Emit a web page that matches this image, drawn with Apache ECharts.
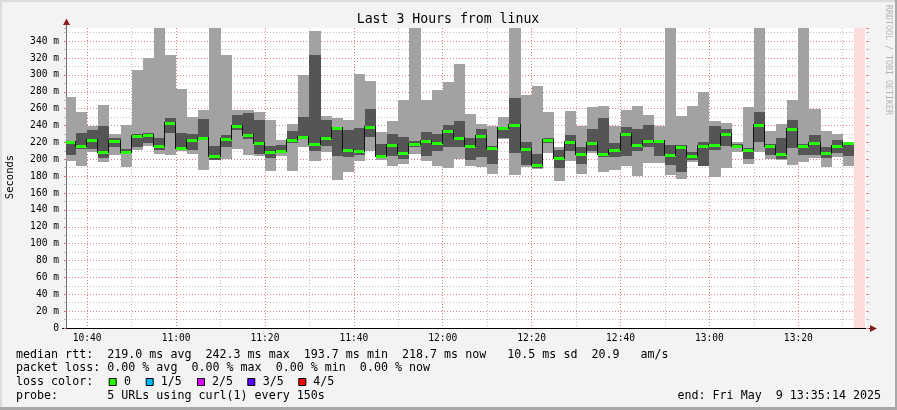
<!DOCTYPE html>
<html><head><meta charset="utf-8">
<script src="https://cdn.jsdelivr.net/npm/echarts@6/dist/echarts.min.js"></script>
<style>html,body{margin:0;padding:0;background:#f3f3f3}#c{width:897px;height:410px}</style>
</head><body><div id="c"></div>
<script>
// ---------- data ----------
const chartTitle = 'Last 3 Hours from linux';
const yAxisTitle = 'Seconds';
const viewStart = '10:35:14';
const viewEnd = '13:35:14';
const firstStep = '10:35:00';
const stepMinutes = 2.5;            // 150 s probe interval
const unknownSteps = ['13:32:30'];  // steps with no data (pink)
const yMax = 355.6;

// ping RTTs per step (ms): max, 4th, median, 2nd, min of 5 probes
const pingMax = [274,255.5,240,264.8,230.5,241,305.3,320.3,380,323.8,283.6,249.8,257.9,380,323.8,258,258,255.5,
  247,223,242.3,300.1,352.2,251.8,248.4,246,301.3,293,231.8,244.9,270.7,380,269.7,282.4,291.1,312.8,
  254,242.1,239,249.6,380,276.5,286.3,255.5,214.1,256.7,239.7,261.8,263.4,239.7,258.7,263.4,252.8,239,
  380,250.8,263.4,279.2,245.7,242.9,220,261.5,380,233,242.1,269.7,380,259.5,233,229.9,219.6];
const ping4 = [221,230.7,234.2,238.9,224.7,211.7,229.5,231.4,224.7,248.4,230.7,229.5,247.2,215.3,228.3,252,254.4,246,
  215.7,216.4,233.8,250,323.8,246,238.1,234.2,236.6,260.1,217.6,229.5,226.3,221.6,232.2,229.5,240.5,244.9,
  225,236.2,216,237.5,272.9,220,206.6,225.1,211.3,229.1,215,236.2,249.2,219.2,237.8,236.2,240.9,223.2,
  217.2,216.9,208.2,220.4,239,236.2,218,213.3,255.5,218,224.7,246,218,228.3,214.1,222.4,219.6];
const pingMedian = [220.4,215.6,222.4,208.2,221.4,208.9,227.7,229.3,215.6,242.7,213.7,223.1,224.7,203.6,224.3,239.3,228.5,219.2,
  208.2,209.3,222.4,226.7,217.6,224.7,237,210.5,209.3,238.5,204.2,217.2,207,218.3,222,219.2,233,224.7,
  215.2,227.7,213.1,237,240.3,212.1,193.7,223.4,201.3,220.6,206,219.4,205.7,211.5,230.1,217.5,221.4,221.4,
  205,215.1,204.4,215.9,216.7,230.1,215.9,211.5,240.9,216.1,206.6,235.4,215.7,219.4,208,215.7,218.7];
const ping2 = [205.5,212.5,211.7,201,214.5,207,214.5,219,210.5,230.7,211,210.5,223,199.5,214.5,234.2,224.3,205.8,
  201,207.8,219.6,224.7,209.7,215.7,203.8,202.6,205,226.3,201,203.8,199.9,214.5,203.8,209.7,214.5,214.5,
  199,202.2,194.7,224.7,207.4,193.6,189.6,219.2,189.6,209.4,194.3,209.4,202.6,202.6,203.4,210,214.1,203.4,
  192.8,184.5,199.5,192.4,210.5,215.3,214.1,200.3,220,205.4,200.3,212.9,205.4,205.4,201.4,207.4,203.4];
const pingMin = [197.5,192,208.3,196.7,205.6,190.6,211,215.5,206.5,204.6,210.2,206,187,198.8,200,211.7,204.6,203.4,
  185.8,204,185.8,214.3,197.7,208.5,176,184.5,197.7,209.5,199.3,191.8,194.9,205.8,197.9,192.5,189.4,200.7,
  191.6,190.4,182.9,224,181,190.8,189,207.4,173.8,197.5,182.9,207.4,184.5,187.6,191.6,180.5,195.5,195.5,
  181,176.6,196.3,191.6,178.6,189.2,208.2,194.7,208.2,200.3,198.7,192.8,196.3,201.4,190.4,202.6,191.6];

const lossLabels = ['0', '1/5', '2/5', '3/5', '4/5'];
const lossColors = ['#26ff00', '#00b8ff', '#dd00ff', '#5500ff', '#ff0000'];
const legendLines = [
  'median rtt:  219.0 ms avg  242.3 ms max  193.7 ms min  218.7 ms now   10.5 ms sd  20.9   am/s',
  'packet loss: 0.00 % avg  0.00 % max  0.00 % min  0.00 % now',
  'loss color:',
  'probe:       5 URLs using curl(1) every 150s'
];
const endText = 'end: Fri May  9 13:35:14 2025';
const sideText = 'RRDTOOL / TOBI OETIKER';

// ---------- build ----------
const toMin = s => { const p = s.split(':').map(Number); return p[0]*60 + p[1] + (p[2]||0)/60; };
const pad = n => (n < 10 ? '0' : '') + n;
const t0 = toMin(firstStep);
const rows = pingMedian.map((m, i) => [t0 + i*stepMinutes, pingMin[i], ping2[i], m, ping4[i], pingMax[i], 1]);
unknownSteps.forEach(s => rows.push([toMin(s), 0, 0, 0, 0, 0, 0]));

const LIGHT = '#a2a2a2', DARK = '#555555', UNK = '#ffdcdc';
const MONO = '"DejaVu Sans Mono", monospace';

function clipTo(cs, r) {
  return echarts.graphic.clipRectByRect(r, {x: cs.x, y: cs.y, width: cs.width, height: cs.height});
}
function smoke(params, api) {
  const cs = params.coordSys;
  const a = api.value(0), b = a + stepMinutes;
  const X0 = Math.round(api.coord([a, 0])[0]), X1 = Math.round(api.coord([b, 0])[0]);
  const Y = v => Math.round(api.coord([a, v])[1]);
  const children = [];
  if (!api.value(6)) {
    const r = clipTo(cs, {x: X0, y: cs.y, width: X1 - X0, height: cs.height});
    if (r) children.push({type: 'rect', shape: r, style: {fill: UNK}});
    return {type: 'group', children};
  }
  const band = (lo, hi, c) => {
    const yt = Y(hi), yb = Y(lo);
    const r = clipTo(cs, {x: X0, y: yt, width: X1 - X0, height: yb - yt});
    if (r) children.push({type: 'rect', shape: r, style: {fill: c}});
  };
  band(api.value(1), api.value(5), LIGHT);
  band(api.value(2), api.value(4), DARK);
  return {type: 'group', children};
}
function medianLine(params, api) {
  const cs = params.coordSys;
  if (!api.value(6)) return {type: 'group', children: []};
  const a = api.value(0), b = a + stepMinutes;
  const X0 = Math.round(api.coord([a, 0])[0]), X1 = Math.round(api.coord([b, 0])[0]);
  const Y = v => Math.round(api.coord([a, v])[1]);
  const ym = Y(api.value(3));
  const children = [];
  const idx = params.dataIndexInside;
  if (idx > 0 && api.value(6, idx - 1)) {
    const yp = Y(api.value(3, idx - 1));
    const r = clipTo(cs, {x: X0 - 1, y: Math.min(yp, ym) - 1, width: 1, height: Math.abs(yp - ym) + 2});
    if (r) children.push({type: 'rect', shape: r, style: {fill: '#111'}});
  }
  const g = clipTo(cs, {x: X0, y: ym - 1, width: X1 - X0, height: 3});
  if (g) children.push({type: 'rect', shape: g, style: {fill: lossColors[0]}});
  return {type: 'group', children};
}

const xMin = toMin(viewStart), xMax = toMin(viewEnd);
const gridLeft = 66, gridTop = 28, gridRight = 31, gridBottom = 82;

const chart = echarts.init(document.getElementById('c'), null, {renderer: 'canvas'});
const graphics = [];
// frame
graphics.push({type:'rect', shape:{x:0,y:0,width:897,height:2}, style:{fill:'#dcdcdc'}, silent:true});
graphics.push({type:'rect', shape:{x:0,y:0,width:2,height:410}, style:{fill:'#dcdcdc'}, silent:true});
graphics.push({type:'rect', shape:{x:0,y:407,width:897,height:3}, style:{fill:'#a8a8a8'}, silent:true});
graphics.push({type:'rect', shape:{x:895,y:0,width:2,height:410}, style:{fill:'#a8a8a8'}, silent:true});
// title
graphics.push({type:'text', x:448, y:19.5, style:{text: chartTitle, font:'13.2px ' + MONO, fill:'#000', align:'center', verticalAlign:'middle'}});
// side text
graphics.push({type:'text', x:888, y:5, rotation:-Math.PI/2, style:{text: sideText, font:'8.3px ' + MONO, fill:'#b4b4b4', align:'left', verticalAlign:'middle'}});
// y title
graphics.push({type:'text', x:10, y:177, rotation:Math.PI/2, style:{text: yAxisTitle, font:'10.5px ' + MONO, fill:'#000', align:'center', verticalAlign:'middle'}});
// axis extensions + arrows
graphics.push({type:'line', shape:{x1:66.5,y1:22,x2:66.5,y2:28}, style:{stroke:'#707070', lineWidth:1}});
graphics.push({type:'polygon', shape:{points:[[66.5,18.5],[63,25],[70,25]]}, style:{fill:'#8b1c1c'}});
graphics.push({type:'line', shape:{x1:62,y1:328.5,x2:872,y2:328.5}, style:{stroke:'#000', lineWidth:1}});
graphics.push({type:'polygon', shape:{points:[[877,328.5],[870,325],[870,332]]}, style:{fill:'#8b1c1c'}});
// legend lines
const lineY = [354.5, 368.3, 382.2, 396];
legendLines.forEach((t, i) => graphics.push({type:'text', x:16, y:lineY[i], style:{text:t, font:'11.66px ' + MONO, fill:'#000', verticalAlign:'middle'}}));
graphics.push({type:'text', x:881, y:lineY[3], style:{text:endText, font:'11.66px ' + MONO, fill:'#000', align:'right', verticalAlign:'middle'}});
const boxX = [108.7, 145.7, 197, 247.3, 298.3];
const labX = [124, 160.7, 212, 262.7, 313.3];
lossLabels.forEach((l, i) => {
  graphics.push({type:'rect', shape:{x:boxX[i]+0.5, y:378.5, width:7, height:7}, style:{fill:lossColors[i], stroke:'#000', lineWidth:1}});
  graphics.push({type:'text', x:labX[i], y:lineY[2], style:{text:l, font:'11.66px ' + MONO, fill:'#000', verticalAlign:'middle'}});
});

const labelFont = {fontFamily: 'DejaVu Sans Mono', fontSize: 9.6, color: '#000'};
const minorLine = {show: true, lineStyle: {color: 'rgba(170,170,170,0.75)', type: [1, 2], width: 1}, showMinLine: false, showMaxLine: false};
const majorLine = {show: true, lineStyle: {color: 'rgba(230,110,110,0.75)', type: [1, 2], width: 1}, showMinLine: false, showMaxLine: false};
const tickOnly = (interval, color, pos) => ({type: 'value', min: 0, max: yMax, interval, position: pos, z: 1,
  axisLine: {show: false}, axisLabel: {show: false}, splitLine: {show: false},
  axisTick: {show: true, length: 3, lineStyle: {color}}});

chart.setOption({
  animation: false,
  backgroundColor: '#f3f3f3',
  grid: {left: gridLeft, top: gridTop, right: gridRight, bottom: gridBottom, show: true, backgroundColor: '#ffffff', borderWidth: 0},
  xAxis: [
    {type: 'value', min: xMin, max: xMax, minInterval: 10, maxInterval: 10, splitNumber: 18, position: 'bottom', z: 0,
      axisLine: {show: false}, axisTick: {show: false}, axisLabel: {show: false}, splitLine: minorLine},
    {type: 'value', min: xMin, max: xMax, minInterval: 20, maxInterval: 20, splitNumber: 9, position: 'bottom', z: 1,
      axisLine: {show: false}, axisTick: {show: false}, splitLine: majorLine,
      axisLabel: Object.assign({margin: 5, showMinLabel: false, showMaxLabel: false,
        formatter: v => pad(Math.floor(v/60)) + ':' + pad(Math.round(v%60))}, labelFont)}
  ],
  yAxis: [
    {type: 'value', min: 0, max: yMax, interval: 10, position: 'left', z: 0,
      axisLine: {show: false}, axisTick: {show: true, length: 2, lineStyle: {color: '#bbb'}}, axisLabel: {show: false}, splitLine: minorLine},
    {type: 'value', min: 0, max: yMax, interval: 20, position: 'left', z: 1,
      axisLine: {show: true, lineStyle: {color: '#707070', width: 1}},
      axisTick: {show: true, length: 2, lineStyle: {color: '#e07070'}}, splitLine: majorLine,
      axisLabel: Object.assign({margin: 7, showMaxLabel: false, formatter: v => v === 0 ? '0' : v + ' m'}, labelFont)},
    tickOnly(10, '#c4c4c4', 'right'),
    tickOnly(20, '#e88a8a', 'right')
  ],
  series: [
    {type: 'custom', xAxisIndex: 1, yAxisIndex: 1, data: rows, renderItem: smoke, z: 2, silent: true},
    {type: 'custom', xAxisIndex: 1, yAxisIndex: 1, data: rows, renderItem: medianLine, z: 3, silent: true}
  ],
  graphic: graphics
});
</script>
</body></html>
